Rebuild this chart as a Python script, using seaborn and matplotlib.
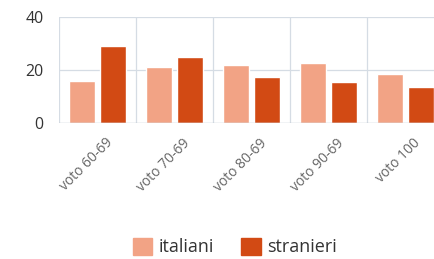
import matplotlib
matplotlib.use("Agg")
import matplotlib.pyplot as plt
import matplotlib.transforms as mtransforms
import seaborn as sns
import pandas as pd

# ── Data ──────────────────────────────────────────
categories = ["voto 60-69", "voto 70-69", "voto 80-69", "voto 90-69", "voto 100"]
italiani = [16, 21, 22, 22.5, 18.5]
stranieri = [29, 25, 17.5, 15.5, 13.5]
series = ["italiani", "stranieri"]
y_ticks = [0, 20, 40]

df = pd.DataFrame({
    "cat": categories * 2,
    "val": italiani + stranieri,
    "serie": [series[0]] * len(categories) + [series[1]] * len(categories),
})

sns.set_style("white")
plt.rcParams["font.family"] = ["Open Sans", "DejaVu Sans"]

palette = {"italiani": "#F2A385", "stranieri": "#D24A14"}

fig = plt.figure(figsize=(4.35, 2.59), dpi=100)
ax = fig.add_axes([59 / 435, 1 - 123 / 259, 385 / 435, 106 / 259])

sns.barplot(data=df, x="cat", y="val", hue="serie", palette=palette,
            gap=0.15, width=0.8, saturation=1, ax=ax, legend=False)

ax.set_xlim(-0.5, 4.5)
ax.set_ylim(0, 40)
ax.set_yticks(y_ticks)
ax.set_xlabel("")
ax.set_ylabel("")

# grid: horizontal at 20/40, vertical at group boundaries
for y in [20, 40]:
    ax.axhline(y, color="#D5DCE4", lw=0.9, zorder=0)
for x in [-0.5, 0.5, 1.5, 2.5, 3.5]:
    ax.axvline(x, color="#D5DCE4", lw=0.9, zorder=0)
ax.axhline(0, color="#B9C2CC", lw=1.0, zorder=3)
for s in ax.spines.values():
    s.set_visible(False)

ax.tick_params(axis="y", length=0, pad=11, labelsize=11.5, labelcolor="#333333")
ax.tick_params(axis="x", length=0, pad=9, labelsize=10, labelcolor="#666666")
offset = mtransforms.ScaledTranslation(5.5 / 72, 0, fig.dpi_scale_trans)
for lbl in ax.get_xticklabels():
    lbl.set_rotation(45)
    lbl.set_ha("right")
    lbl.set_rotation_mode("anchor")
    lbl.set_transform(lbl.get_transform() + offset)

# legend
handles = [plt.Rectangle((0, 0), 1, 1, color=palette[s]) for s in series]
fig.legend(handles, series, loc="center", bbox_to_anchor=(0.54, 0.046),
           ncol=2, frameon=False, fontsize=13, handlelength=1.1,
           handleheight=1.05, columnspacing=1.5, handletextpad=0.35,
           labelcolor="#333333")

fig.savefig("out.png", dpi=100)
